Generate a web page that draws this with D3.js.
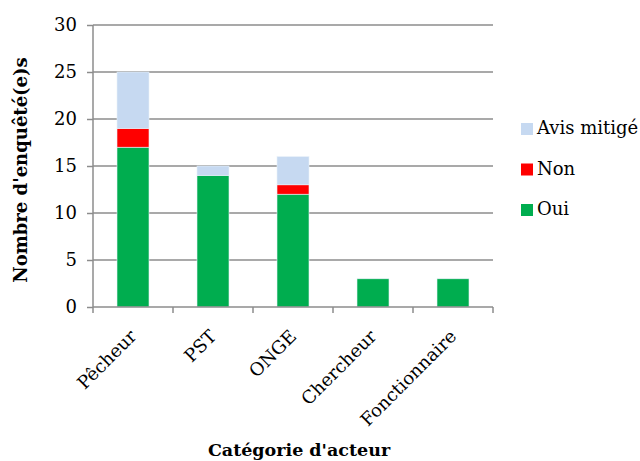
<!DOCTYPE html>
<html><head><meta charset="utf-8">
<script src="https://cdn.jsdelivr.net/npm/d3@7/dist/d3.min.js"></script>
<style>body{margin:0;background:#fff}svg{display:block}</style>
</head><body><svg id="c" width="640" height="461"></svg>
<script>
const categories = ["Pêcheur","PST","ONGE","Chercheur","Fonctionnaire"];
const oui = [17,14,12,3,3];
const non = [2,0,1,0,0];
const avisMitige = [6,1,3,0,0];
const seriesNames = ["Oui","Non","Avis mitigé"];
const seriesColors = ["#00AD4F","#FF0000","#C6D9F1"];
const yTicks = [0,5,10,15,20,25,30];

const font = "'DejaVu Serif', serif";
const svg = d3.select("#c");
const m = {l:93, r:493, t:25, b:307};
const x = d3.scaleBand().domain(categories).range([m.l,m.r]).paddingInner(0.6).paddingOuter(0.3);
const y = d3.scaleLinear().domain([0,30]).range([m.b,m.t]);

// gridlines
svg.append("g").selectAll("line").data(yTicks.filter(d=>d>0)).join("line")
  .attr("x1",m.l).attr("x2",m.r).attr("y1",d=>y(d)).attr("y2",d=>y(d))
  .attr("stroke","#8c8c8c").attr("stroke-width",1.5);

const rows = categories.map((c,i)=>({cat:c,Oui:oui[i],Non:non[i],"Avis mitigé":avisMitige[i]}));
const stack = d3.stack().keys(seriesNames)(rows);
const color = d3.scaleOrdinal().domain(seriesNames).range(seriesColors);
svg.append("g").selectAll("g").data(stack).join("g").attr("fill",d=>color(d.key))
  .selectAll("rect").data(d=>d.filter(p=>p[1]>p[0])).join("rect")
  .attr("x",d=>x(d.data.cat)).attr("width",x.bandwidth())
  .attr("y",d=>y(d[1])).attr("height",d=>y(d[0])-y(d[1]))
  .attr("stroke","#e8f0f8").attr("stroke-width",0.6);

// y axis
const ya = svg.append("g").attr("transform",`translate(${m.l},0)`)
  .call(d3.axisLeft(y).tickValues(yTicks).tickSize(6).tickPadding(10));
ya.select(".domain").attr("stroke","#8c8c8c").attr("stroke-width",1.5).attr("d",`M0,${m.t}V${m.b}`);
ya.selectAll(".tick line").attr("stroke","#8c8c8c").attr("stroke-width",1.5);
ya.selectAll("text").attr("font-family",font).attr("font-size",18).attr("fill","#000");

// x axis
const xa = svg.append("g").attr("transform",`translate(0,${m.b})`)
  .call(d3.axisBottom(x).tickSize(0).tickFormat(""));
xa.select(".domain").attr("stroke","#8c8c8c").attr("stroke-width",1.5).attr("d",`M${m.l},0H${m.r}`);
const step = x.step();
svg.append("g").selectAll("line").data(d3.range(categories.length+1)).join("line")
  .attr("x1",i=>m.l+i*step).attr("x2",i=>m.l+i*step).attr("y1",m.b).attr("y2",m.b+6)
  .attr("stroke","#8c8c8c").attr("stroke-width",1.5);
svg.append("g").selectAll("text").data(categories).join("text")
  .attr("transform",d=>`translate(${x(d)+x.bandwidth()/2+1},${m.b+27}) rotate(-45)`)
  .attr("text-anchor","end").attr("dominant-baseline","middle")
  .attr("font-family",font).attr("font-size",18).text(d=>d);

// axis titles
svg.append("text").attr("transform",`translate(27,170) rotate(-90)`)
  .attr("text-anchor","middle").attr("font-family",font).attr("font-weight","bold")
  .attr("font-size",18).text("Nombre d'enquêté(e)s");
svg.append("text").attr("x",299).attr("y",456).attr("text-anchor","middle")
  .attr("font-family",font).attr("font-weight","bold").attr("font-size",17.5)
  .text("Catégorie d'acteur");

// legend
const legOrder = ["Avis mitigé","Non","Oui"];
const lg = svg.append("g").selectAll("g").data(legOrder).join("g")
  .attr("transform",(d,i)=>`translate(521,${123+i*40.5})`);
lg.append("rect").attr("width",12).attr("height",12).attr("fill",d=>color(d));
lg.append("text").attr("x",16).attr("y",6).attr("dominant-baseline","middle")
  .attr("font-family",font).attr("font-size",18).text(d=>d);
</script></body></html>
